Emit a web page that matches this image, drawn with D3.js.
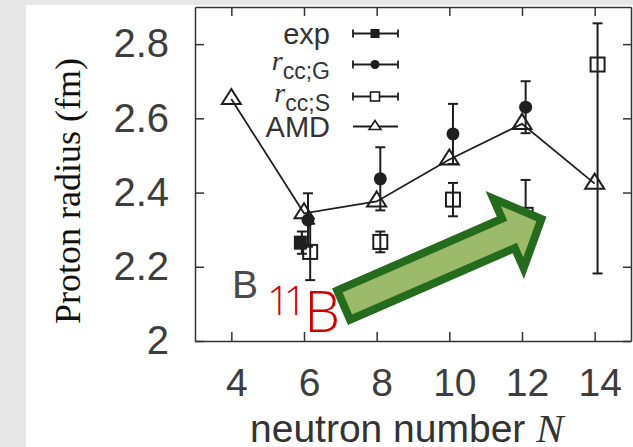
<!DOCTYPE html>
<html>
<head>
<meta charset="utf-8">
<script src="https://cdn.jsdelivr.net/npm/d3@7"></script>
<style>
  html, body { margin: 0; padding: 0; background: #e8e7e8; }
  svg { display: block; }
</style>
</head>
<body>
<svg id="chart" width="633" height="447"></svg>
<script>
// Neutron numbers and AMD proton radii (fm)
const amdN = [4, 6, 8, 10, 12, 14];
const amdR = [2.652, 2.344, 2.376, 2.489, 2.585, 2.424];

// Experimental value (11B), plotted slightly left of N = 6
const expN = [5.9];
const expR = [2.265];
const expErr = [0.03];

// r_cc;G values with symmetric errors
const gN = [6.11, 8.1, 10.1, 12.1];
const gR = [2.326, 2.437, 2.558, 2.63];
const gErr = [0.072, 0.085, 0.081, 0.07];

// r_cc;S values with (possibly asymmetric) errors
const sN = [6.17, 8.1, 10.1, 12.1, 14.08];
const sR = [2.24, 2.267, 2.381, 2.34, 2.745];
const sErrLo = [0.076, 0.028, 0.045, 0.094, 0.563];
const sErrHi = [0.076, 0.028, 0.045, 0.094, 0.111];

// Axis ticks
const xTicks = [4, 6, 8, 10, 12, 14];
const yTicks = [2.0, 2.2, 2.4, 2.6, 2.8];
const yTickLabels = ["2", "2.2", "2.4", "2.6", "2.8"];

const svg = d3.select("#chart");
const ink = "#1e1e1e";
const sans = "'Liberation Sans', Arial, Helvetica, sans-serif";
const serif = "'Liberation Serif', 'Times New Roman', serif";

// white page area
svg.append("rect").attr("x", 26).attr("y", 5).attr("width", 607).attr("height", 442).attr("fill", "#ffffff");

const x = d3.scaleLinear().domain([3, 15]).range([195, 631]);
const y = d3.scaleLinear().domain([2, 2.9]).range([341, 7]);

// axes with inward ticks
const axStyle = g => {
  g.selectAll(".domain").attr("stroke", "#333").attr("stroke-width", 1.5);
  g.selectAll(".tick line").attr("stroke", "#333").attr("stroke-width", 1.5);
};

svg.append("g").attr("transform", `translate(0,${y(2)})`)
  .call(d3.axisBottom(x).tickValues(xTicks).tickSizeInner(-9).tickSizeOuter(0).tickPadding(27).tickFormat(d3.format("d")))
  .call(axStyle)
  .call(g => g.selectAll(".tick text").attr("font-family", sans).attr("font-size", 39).attr("fill", "#3d3d3d").attr("dx", 5));

svg.append("g").attr("transform", `translate(0,${y(2.9)})`)
  .call(d3.axisTop(x).tickValues(xTicks).tickSizeInner(-9).tickSizeOuter(0).tickFormat(""))
  .call(axStyle);

svg.append("g").attr("transform", `translate(${x(3)},0)`)
  .call(d3.axisLeft(y).tickValues(yTicks).tickSizeInner(-9).tickSizeOuter(0).tickPadding(26)
    .tickFormat((d, i) => yTickLabels[i]))
  .call(axStyle)
  .call(g => g.selectAll(".tick text").attr("font-family", sans).attr("font-size", 40).attr("fill", "#3d3d3d"));

svg.append("g").attr("transform", `translate(${x(15)},0)`)
  .call(d3.axisRight(y).tickValues(yTicks).tickSizeInner(-8).tickSizeOuter(0).tickFormat(""))
  .call(axStyle);

// axis titles
svg.append("text")
  .attr("transform", "translate(80,191) rotate(-90)")
  .attr("text-anchor", "middle")
  .attr("font-family", serif).attr("font-size", 36).attr("fill", "#111")
  .text("Proton radius (fm)");

const xl = svg.append("text").attr("x", 250).attr("y", 442)
  .attr("font-family", sans).attr("font-size", 39).attr("fill", "#333");
xl.append("tspan").text("neutron number ");
xl.append("tspan").attr("font-family", serif).attr("font-style", "italic").attr("font-size", 41).text("N");

// data layer
const plot = svg.append("g");

function errBar(g, px, yTop, yBot, cap) {
  g.append("line").attr("x1", px).attr("x2", px).attr("y1", yTop).attr("y2", yBot)
    .attr("stroke", ink).attr("stroke-width", 2);
  [yTop, yBot].forEach(v => g.append("line").attr("x1", px - cap / 2).attr("x2", px + cap / 2)
    .attr("y1", v).attr("y2", v).attr("stroke", ink).attr("stroke-width", 2));
}

const triPath = (cx, cy, w, h) =>
  `M${cx},${cy - h * 2 / 3}L${cx + w / 2},${cy + h / 3}L${cx - w / 2},${cy + h / 3}Z`;

// AMD line
const line = d3.line().x(d => x(d[0])).y(d => y(d[1]));
plot.append("path").datum(amdN.map((n, i) => [n, amdR[i]]))
  .attr("d", line).attr("fill", "none").attr("stroke", ink).attr("stroke-width", 1.8);

// r_cc;S (open squares)
sN.forEach((n, i) => {
  const g = plot.append("g");
  errBar(g, x(n), y(sR[i] + sErrHi[i]), y(sR[i] - sErrLo[i]), 10);
  g.append("rect").attr("x", x(n) - 7).attr("y", y(sR[i]) - 7).attr("width", 14).attr("height", 14)
    .attr("fill", "none").attr("stroke", ink).attr("stroke-width", 2);
});

// r_cc;G (filled circles)
gN.forEach((n, i) => {
  const g = plot.append("g");
  errBar(g, x(n), y(gR[i] + gErr[i]), y(gR[i] - gErr[i]), 10);
  g.append("circle").attr("cx", x(n)).attr("cy", y(gR[i])).attr("r", 6.5).attr("fill", ink);
});

// experiment (filled square)
expN.forEach((n, i) => {
  const g = plot.append("g");
  errBar(g, x(n) + 1.5, y(expR[i] + expErr[i]), y(expR[i] - expErr[i]), 10);
  g.append("rect").attr("x", x(n) - 6.5).attr("y", y(expR[i]) - 7).attr("width", 13).attr("height", 14).attr("fill", ink);
});

// AMD triangles
amdN.forEach((n, i) => {
  plot.append("path").attr("d", triPath(x(n), y(amdR[i]), 19, 15))
    .attr("fill", "none").attr("stroke", ink).attr("stroke-width", 2).attr("stroke-linejoin", "miter");
});

// legend
const leg = svg.append("g");
const legRows = [
  { type: "exp", cy: 33.5 },
  { type: "G", cy: 64.5 },
  { type: "S", cy: 96.5 },
  { type: "AMD", cy: 126.5 }
];
const lx1 = 353, lx2 = 398, lxm = 375;
legRows.forEach(r => {
  const g = leg.append("g");
  const t = g.append("text").attr("x", 330).attr("text-anchor", "end")
    .attr("font-family", sans).attr("font-size", 29).attr("fill", "#333");
  if (r.type === "exp" || r.type === "AMD") {
    t.attr("y", r.cy + 10).text(r.type === "exp" ? "exp" : "AMD");
  } else {
    t.attr("y", r.cy + 5);
    t.append("tspan").attr("font-family", serif).attr("font-style", "italic").attr("font-size", 28).text("r");
    t.append("tspan").attr("font-size", 23).attr("dy", 9).text(r.type === "G" ? "cc;G" : "cc;S");
  }
  g.append("line").attr("x1", lx1).attr("x2", lx2).attr("y1", r.cy).attr("y2", r.cy)
    .attr("stroke", ink).attr("stroke-width", 1.8);
  if (r.type !== "AMD") {
    [lx1, lx2].forEach(v => g.append("line").attr("x1", v).attr("x2", v).attr("y1", r.cy - 4).attr("y2", r.cy + 4)
      .attr("stroke", ink).attr("stroke-width", 1.8));
  }
  if (r.type === "exp") {
    g.append("rect").attr("x", lxm - 4.5).attr("y", r.cy - 4.5).attr("width", 9).attr("height", 9).attr("fill", ink);
  } else if (r.type === "G") {
    g.append("circle").attr("cx", lxm).attr("cy", r.cy).attr("r", 4.5).attr("fill", ink);
  } else if (r.type === "S") {
    g.append("rect").attr("x", lxm - 4.5).attr("y", r.cy - 4.5).attr("width", 9).attr("height", 9)
      .attr("fill", "#fff").attr("stroke", ink).attr("stroke-width", 1.6);
  } else {
    g.append("path").attr("d", triPath(lxm, r.cy, 12, 9)).attr("fill", "#fff").attr("stroke", ink).attr("stroke-width", 1.6);
  }
});

// element labels
svg.append("text").attr("x", 232).attr("y", 298)
  .attr("font-family", sans).attr("font-size", 39).attr("fill", "#4a4a4a").text("B");

// isotope label: mass number as a narrow superscript before the symbol
const iso = svg.append("text").attr("x", 267).attr("y", 315)
  .attr("font-family", "'Open Sans', 'Noto Sans', sans-serif").attr("font-weight", 300).attr("fill", "#d00000");
iso.append("tspan").attr("font-size", 40).attr("letter-spacing", "-6px").text("11");
iso.append("tspan").attr("font-size", 57).attr("dy", 16.5).attr("dx", 3.5).attr("letter-spacing", "0px").text("B");

// trend arrow, anchored in data coordinates
const arrowFrom = [7.093, 2.0967], arrowTo = [12.535, 2.3288];
(function drawArrow() {
  const p0 = [x(arrowFrom[0]), y(arrowFrom[1])];
  const p1 = [x(arrowTo[0]), y(arrowTo[1])];
  const dx = p1[0] - p0[0], dy = p1[1] - p0[1];
  const len = Math.hypot(dx, dy);
  const u = [dx / len, dy / len], n = [-u[1], u[0]];
  const shaftHalf = 16, headHalf = 38, headLen = 36;
  const at = (t, s) => [p0[0] + u[0] * t + n[0] * s, p0[1] + u[1] * t + n[1] * s];
  const pts = [
    at(0, -shaftHalf), at(len - headLen, -shaftHalf), at(len - headLen, -headHalf),
    at(len, 0),
    at(len - headLen, headHalf), at(len - headLen, shaftHalf), at(0, shaftHalf)
  ];
  svg.append("path").attr("d", "M" + pts.map(p => p.join(",")).join("L") + "Z")
    .attr("fill", "#9bbb6b").attr("stroke", "#246b1e").attr("stroke-width", 8).attr("stroke-linejoin", "miter");
})();
</script>
</body>
</html>
